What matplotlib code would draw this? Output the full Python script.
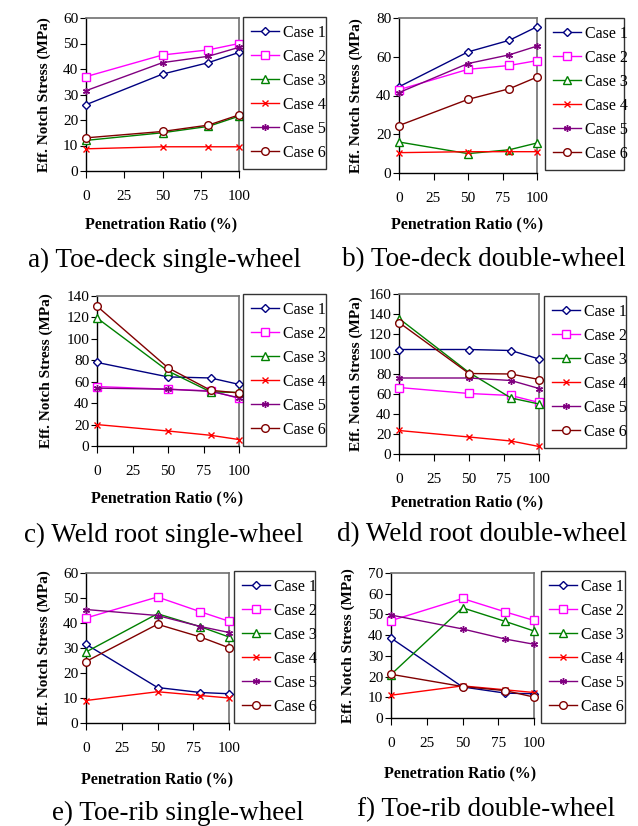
import matplotlib
matplotlib.use('Agg')
import matplotlib.pyplot as plt

# penetration ratio (%) at which the notch stress was evaluated
ratio = [0, 50, 80, 100]
x_ticks = [0, 25, 50, 75, 100]
cases = ['Case 1', 'Case 2', 'Case 3', 'Case 4', 'Case 5', 'Case 6']

# effective notch stress (MPa), one row per case
toe_deck_single = [
    [26, 38, 42.5, 46.5],
    [37, 45.5, 47.5, 50],
    [12, 15, 17.5, 21.5],
    [8.7, 9.5, 9.5, 9.5],
    [31.5, 42.5, 45, 48.5],
    [13, 15.5, 18, 22],
]
toe_deck_double = [
    [44.5, 62.5, 68.5, 75.5],
    [43, 53.5, 55.5, 58],
    [16, 10, 12, 15.5],
    [10.5, 11, 11, 11],
    [41.5, 56.5, 61, 65.5],
    [24.5, 38, 43.5, 49.5],
]
weld_root_single = [
    [78, 64.5, 63.5, 57.5],
    [55.5, 53, 51.5, 44.5],
    [119.5, 70, 50.5, 50],
    [20, 14, 10, 6],
    [54, 53, 51, 45],
    [130.5, 73, 52, 49.5],
]
weld_root_double = [
    [104.5, 104.5, 103.5, 95],
    [66.5, 60.5, 58.5, 51.5],
    [135.5, 81.5, 56, 50],
    [23.5, 17, 13, 7.5],
    [76, 76, 73.5, 65.5],
    [131.5, 80.5, 80, 74.5],
]
toe_rib_single = [
    [31.5, 14.2, 12.2, 11.7],
    [42, 50.4, 44.5, 40.7],
    [28.4, 43.7, 38.5, 34.4],
    [9, 12.5, 11, 10],
    [45.4, 43, 38.6, 36.2],
    [24.6, 39.5, 34.4, 30.1],
]
toe_rib_double = [
    [38.6, 15, 12, 11.7],
    [47, 57.7, 51.2, 47.1],
    [21, 53.2, 46.6, 42],
    [11, 15.5, 13.6, 12.3],
    [49.7, 43, 38.1, 35.6],
    [21.1, 15.2, 13.2, 10.1],
]

captions = ['a) Toe-deck single-wheel', 'b) Toe-deck double-wheel',
            'c) Weld root single-wheel', 'd) Weld root double-wheel',
            'e) Toe-rib single-wheel', 'f) Toe-rib double-wheel']

colors = ['#000080', '#FF00FF', '#008000', '#FF0000', '#800080', '#800000']
markers = ['D', 's', '^', 'x', (6, 2, 0), 'o']
msizes = [4, 5.5, 5.5, 5, 5, 5.5]

W, H = 638, 826
SERIF = ['Liberation Serif', 'DejaVu Serif']
plt.rcParams['font.family'] = SERIF

# pixel layout: axes box, legend box, x-label position, caption position
panels = [
    dict(data=toe_deck_single, ymax=60, ystep=10, ax=(86, 18, 239, 171), leg=(243, 17, 326, 170),
         ylab_x=44, xlab=(161, 224), cap=(165, 260)),
    dict(data=toe_deck_double, ymax=80, ystep=20, ax=(399, 18, 537, 173), leg=(545, 18, 624, 172),
         ylab_x=356, xlab=(467, 224), cap=(484, 260)),
    dict(data=weld_root_single, ymax=140, ystep=20, ax=(97, 296, 239, 446), leg=(243, 294, 326, 446),
         ylab_x=46, xlab=(167, 498), cap=(164, 535)),
    dict(data=weld_root_double, ymax=160, ystep=20, ax=(399, 294, 539, 454), leg=(544, 296, 626, 453),
         ylab_x=356, xlab=(467, 502), cap=(482, 535)),
    dict(data=toe_rib_single, ymax=60, ystep=10, ax=(86, 573, 229, 723), leg=(234, 571, 315, 723),
         ylab_x=44, xlab=(157, 779), cap=(178, 813)),
    dict(data=toe_rib_double, ymax=70, ystep=10, ax=(391, 573, 534, 718), leg=(541, 571, 625, 718),
         ylab_x=348, xlab=(460, 773), cap=(486, 810)),
]


def box(l, t, r, b):
    return [l / W, 1 - b / H, (r - l) / W, (b - t) / H]


fig = plt.figure(figsize=(W / 100, H / 100), dpi=100)

for p, cap in zip(panels, captions):
    ax = fig.add_axes(box(*p['ax']))
    lines = []
    for i, row in enumerate(p['data']):
        ln, = ax.plot(ratio, row, color=colors[i], lw=1.0, marker=markers[i],
                      ms=msizes[i], mfc='white' if i not in (3, 4) else colors[i],
                      mec=colors[i], mew=1.0, clip_on=False, zorder=3, label=cases[i])
        lines.append(ln)
    ax.set_xlim(0, 100)
    ax.set_ylim(0, p['ymax'])
    ax.set_xticks(x_ticks)
    ax.set_yticks(range(0, p['ymax'] + 1, p['ystep']))
    ax.tick_params(axis='x', direction='out', length=5, pad=9, labelsize=11)
    ax.tick_params(axis='y', direction='out', length=4, pad=1.5, labelsize=11)
    for side in ('left', 'bottom'):
        ax.spines[side].set_color('black')
        ax.spines[side].set_linewidth(1.0)
    for side in ('top', 'right'):
        ax.spines[side].set_color('#707070')
        ax.spines[side].set_linewidth(1.2)

    l, t, r, b = p['ax']
    fig.text(p['ylab_x'] / W, 1 - (t + b) / 2 / H, 'Eff. Notch Stress (MPa)', rotation=90,
             ha='center', va='center', fontsize=11, fontweight='bold')
    fig.text(p['xlab'][0] / W, 1 - p['xlab'][1] / H, 'Penetration Ratio (%)',
             ha='center', va='center', fontsize=11.5, fontweight='bold')
    fig.text(p['cap'][0] / W, 1 - p['cap'][1] / H, cap, ha='center', va='center', fontsize=19.5)

    ll, lt, lr, lb = p['leg']
    leg = fig.legend(handles=lines, loc='upper left', mode='expand',
                     bbox_to_anchor=(ll / W, 1 - lb / H, (lr - ll) / W, (lb - lt) / H),
                     bbox_transform=fig.transFigure, borderaxespad=0, fontsize=11.5,
                     frameon=True, fancybox=False, edgecolor='black', handlelength=1.75,
                     handletextpad=0.25, borderpad=0.5, labelspacing=0.5)
    leg.get_frame().set_linewidth(1.0)

fig.savefig('out.png', dpi=100)
